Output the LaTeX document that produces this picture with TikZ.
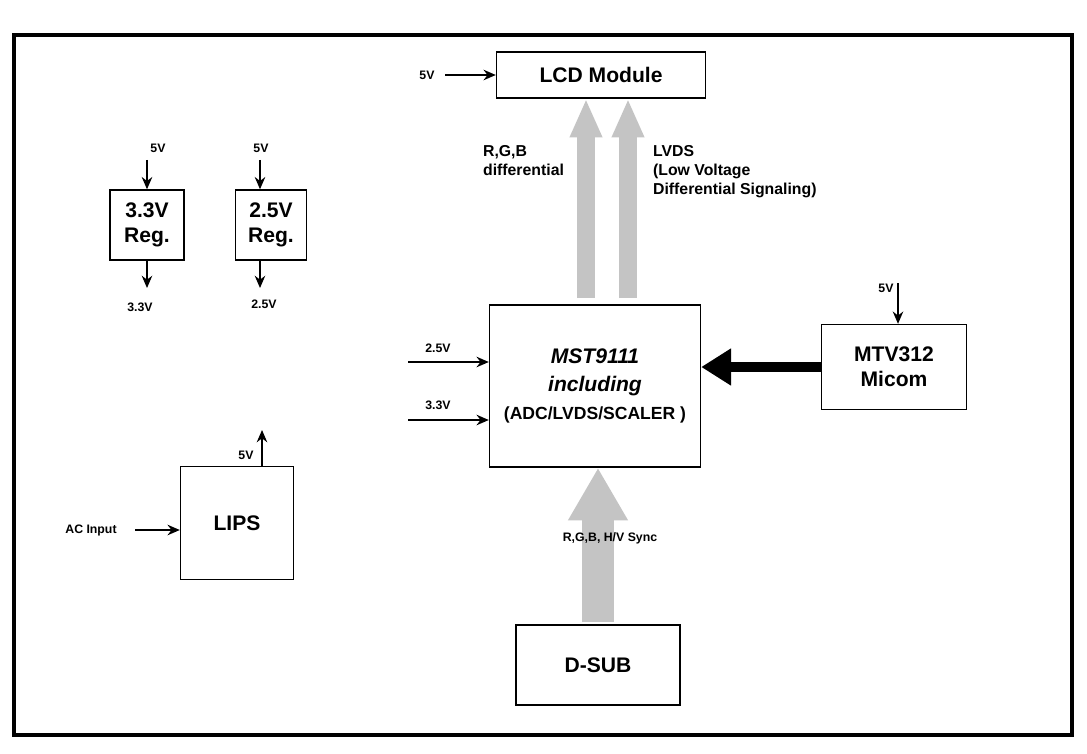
\documentclass[tikz,border=0pt]{standalone}
\usepackage{fontspec}
\setmainfont{Liberation Sans}
\usetikzlibrary{arrows.meta}
\definecolor{busgray}{HTML}{C4C4C4}
\tikzset{
  blk/.style={draw, thick, font=\bfseries, align=center, inner sep=0pt},
  lbl/.style={font=\bfseries\fontsize{7}{8}\selectfont, inner sep=1pt},
  pwr/.style={-{Stealth[length=7pt,width=6pt]}, thick},
  bus/.style={busgray, line width=10pt, -{Triangle[length=22pt,width=17pt]}}
}
\begin{document}
\begin{tikzpicture}[x=0.02cm,y=-0.02cm]
\useasboundingbox (0,0) rectangle (1087,753);
% frame
\draw[line width=1.8pt] (14,35) rectangle (1072,735);
% blocks
\node[blk, minimum width=209*0.02cm, minimum height=46*0.02cm, font=\bfseries\large] (lcd) at (601,75) {LCD Module};
\node[blk, minimum width=211*0.02cm, minimum height=162*0.02cm, font=\bfseries\large] (mst) at (595,386) {\textit{MST9111}\\[2pt]\textit{including}\\[2pt]{\normalsize (ADC/LVDS/SCALER )}};
\node[blk, minimum width=145*0.02cm, minimum height=85*0.02cm, font=\bfseries\large] (micom) at (894,367) {MTV312\\Micom};
\node[blk, minimum width=164*0.02cm, minimum height=80*0.02cm, font=\bfseries\large] (dsub) at (598,665) {D-SUB};
\node[blk, minimum width=74*0.02cm, minimum height=70*0.02cm, font=\bfseries\large] (reg33) at (147,225) {3.3V\\Reg.};
\node[blk, minimum width=71*0.02cm, minimum height=70*0.02cm, font=\bfseries\large] (reg25) at (271,225) {2.5V\\Reg.};
\node[blk, minimum width=113*0.02cm, minimum height=113*0.02cm, font=\bfseries\large] (lips) at (237,523) {LIPS};
% buses
\coordinate (b1) at (586,298);
\draw[bus] (b1) -- (b1 |- lcd.south);
\coordinate (b2) at (628,298);
\draw[bus] (b2) -- (b2 |- lcd.south);
\coordinate (b3) at (598,622);
\draw[bus, line width=18pt, -{Triangle[length=30pt,width=32pt]}] (b3) -- (b3 |- mst.south);
\coordinate (b4) at (822,367);
\draw[line width=5.5pt, -{Triangle[length=17pt,width=20pt]}] (b4) -- (b4 -| mst.east);
% power labels
\node[lbl] (vlcd) at (427,75) {5V};
\node[lbl] (v25in) at (438,348) {2.5V};
\node[lbl] (v33in) at (438,405) {3.3V};
\node[lbl] (vmicom) at (886,288) {5V};
\node[lbl] (vreg33) at (158,148) {5V};
\node[lbl] (vreg25) at (261,148) {5V};
\node[lbl] (oreg33) at (140,307) {3.3V};
\node[lbl] (oreg25) at (264,304) {2.5V};
\node[lbl] (vlips) at (246,455) {5V};
\node[lbl] (ac) at (91,530) {AC Input};
\node[lbl, font=\bfseries\small, align=left, anchor=north west] (rgbl) at (481,143) {R,G,B\\differential};
\node[lbl, font=\bfseries\small, align=left, anchor=north west] (lvdsl) at (651,143) {LVDS\\(Low Voltage\\ Differential Signaling)};
\node[lbl] (syncl) at (610,538) {R,G,B, H/V Sync};
% power arrows
\coordinate (c1) at (445,75);
\draw[pwr] (c1) -- (lcd.west);
\coordinate (c2) at (408,362);
\draw[pwr] (c2) -- (c2 -| mst.west);
\coordinate (c3) at (408,420);
\draw[pwr] (c3) -- (c3 -| mst.west);
\coordinate (c4) at (898,283);
\draw[pwr] (c4) -- (c4 |- micom.north);
\coordinate (c5) at (147,160);
\draw[pwr] (c5) -- (reg33.north);
\coordinate (c6) at (260,160);
\draw[pwr] (c6) -- (c6 |- reg25.north);
\coordinate (c7) at (147,288);
\draw[pwr] (reg33.south) -- (c7);
\coordinate (c8) at (260,288);
\draw[pwr] (c8 |- reg25.south) -- (c8);
\coordinate (c9) at (262,430);
\draw[pwr] (c9 |- lips.north) -- (c9);
\coordinate (c10) at (135,530);
\draw[pwr] (c10) -- (c10 -| lips.west);
\end{tikzpicture}
\end{document}
